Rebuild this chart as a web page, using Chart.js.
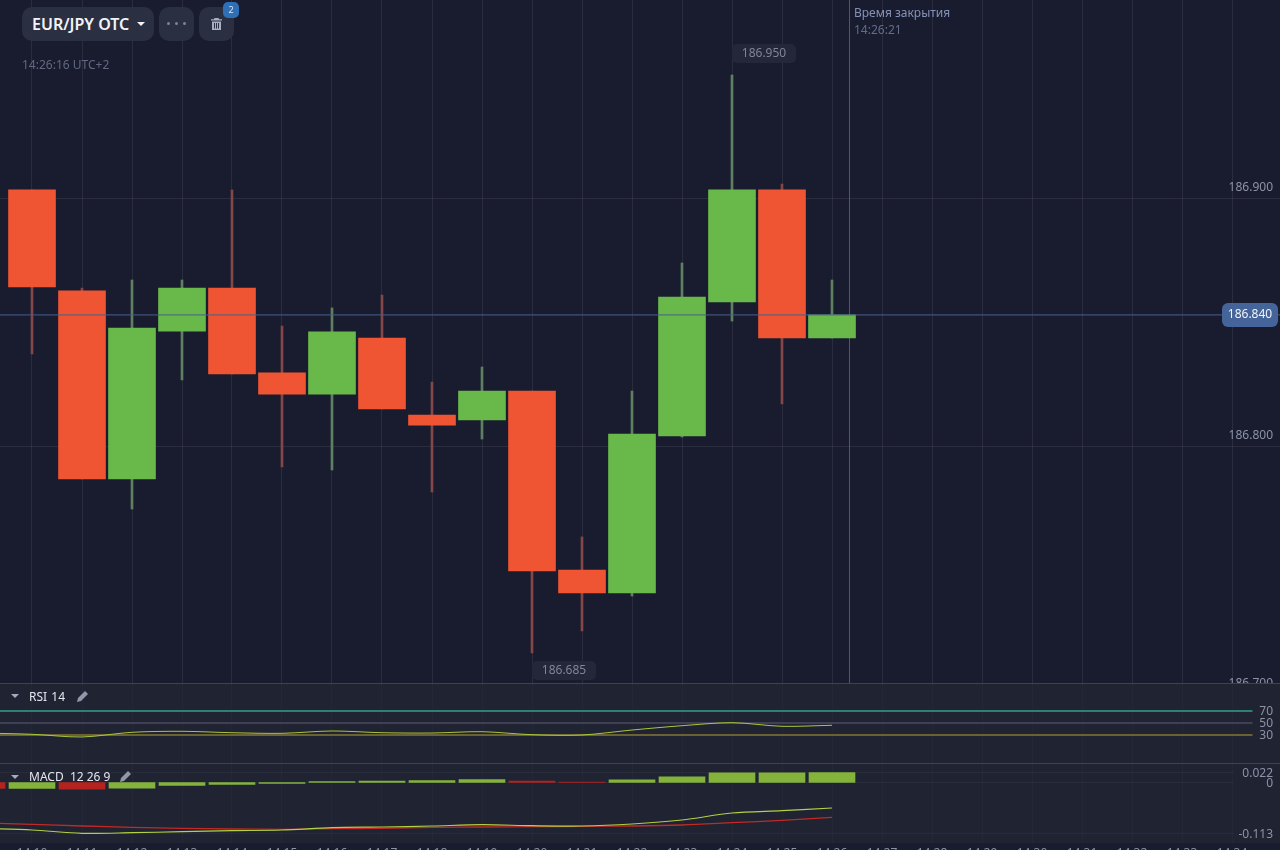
<!DOCTYPE html>
<html>
<head>
<meta charset="utf-8">
<title>EUR/JPY OTC</title>
<script src="https://cdn.jsdelivr.net/npm/chart.js@4"></script>
<style>
  html, body { margin: 0; padding: 0; width: 1280px; height: 850px; overflow: hidden; background: #191c2e; font-family: "Noto Sans", sans-serif; }
  canvas { position: absolute; left: 0; display: block; }
  .pane { position: absolute; left: 0; width: 1280px; background: #1f2332; border-top: 1px solid #3b4259; box-sizing: border-box; }
  .abs { position: absolute; white-space: nowrap; }
  .btn { position: absolute; top: 7px; height: 34px; background: #2a2f42; border-radius: 10px; }
  .paneTitle { position: absolute; left: 29px; color: #e4e6ee; font-size: 12px; line-height: 16px; white-space: pre; }
  .tri { position: absolute; left: 11px; width: 0; height: 0; border-left: 4px solid transparent; border-right: 4px solid transparent; border-top: 4px solid #a4a9bb; }
</style>
</head>
<body>
<canvas id="mainChart" width="1280" height="700" style="top:0;z-index:1"></canvas>

<div class="btn" style="left:22px;width:132px;z-index:3">
  <span class="abs" style="left:10px;top:6px;color:#f2f3f7;font-size:16px;font-weight:600;line-height:22px">EUR/JPY OTC</span>
  <span class="abs" style="left:115px;top:15px;width:0;height:0;border-left:4px solid transparent;border-right:4px solid transparent;border-top:4px solid #f2f3f7"></span>
</div>
<div class="btn" style="left:159px;width:35px;z-index:3">
  <span class="abs" style="left:8px;top:15px;width:3px;height:3px;border-radius:2px;background:#7d8396"></span>
  <span class="abs" style="left:16px;top:15px;width:3px;height:3px;border-radius:2px;background:#7d8396"></span>
  <span class="abs" style="left:24px;top:15px;width:3px;height:3px;border-radius:2px;background:#7d8396"></span>
</div>
<div class="btn" style="left:199px;width:35px;z-index:3">
  <svg class="abs" style="left:12px;top:11px" width="11" height="12" viewBox="0 0 11 12"><path fill="#a9aec0" d="M3.5 0h4l.6 1.2H11v1.3H0V1.2h2.9zM1 3.4h9V12H1zM3 5v5.5h1V5zm2 0v5.5h1V5zm2 0v5.5h1V5z"/></svg>
</div>
<span class="abs" style="left:223px;top:2px;width:16px;height:16px;border-radius:5px;background:#2f6fb5;color:#dbe8f7;font-size:9px;line-height:16px;text-align:center;z-index:4">2</span>
<span class="abs" style="left:22px;top:56px;color:#626880;font-size:12px;line-height:18px;z-index:3">14:26:16 UTC+2</span>
<span class="abs" style="left:854px;top:4px;color:#8592b8;font-size:12px;line-height:18px;z-index:3">Время закрытия</span>
<span class="abs" style="left:854px;top:21px;color:#626c8a;font-size:12px;line-height:18px;z-index:3">14:26:21</span>

<div class="pane" style="top:683px;height:81px;z-index:2"></div>
<canvas id="rsiChart" width="1280" height="81" style="top:683px;z-index:3"></canvas>
<div class="tri" style="top:694px;z-index:4"></div>
<div class="paneTitle" style="top:689px;z-index:4;word-spacing:-1px">RSI  14</div>
<svg class="abs" style="left:77px;top:691px;z-index:4" width="11" height="11" viewBox="0 0 11 11"><path fill="#9196a8" d="M8 0l3 3-7 7-4 1 1-4z"/></svg>

<div class="pane" style="top:763px;height:80px;z-index:2"></div>
<canvas id="macdChart" width="1280" height="99" style="top:764px;z-index:3"></canvas>
<div class="tri" style="top:775px;z-index:4"></div>
<div class="paneTitle" style="top:769px;z-index:4">MACD  12 26 9</div>
<svg class="abs" style="left:120px;top:771px;z-index:4" width="11" height="11" viewBox="0 0 11 11"><path fill="#9196a8" d="M8 0l3 3-7 7-4 1 1-4z"/></svg>

<script>
// Data
const tickLabels = ["14:10", "14:11", "14:12", "14:13", "14:14", "14:15", "14:16", "14:17", "14:18", "14:19", "14:20", "14:21", "14:22", "14:23", "14:24", "14:25", "14:26", "14:27", "14:28", "14:29", "14:30", "14:31", "14:32", "14:33", "14:34"];

const opens  = [186.8973, 186.8510, 186.7648, 186.8326, 186.8523, 186.8134, 186.8037, 186.8294, 186.7941, 186.7918, 186.8051, 186.7230, 186.7125, 186.7845, 186.8459, 186.8973, 186.8294];
const closes = [186.8528, 186.7648, 186.8340, 186.8523, 186.8129, 186.8037, 186.8322, 186.7969, 186.7895, 186.8051, 186.7226, 186.7125, 186.7854, 186.8482, 186.8973, 186.8294, 186.8400];
const highs  = [186.8973, 186.8523, 186.8560, 186.8560, 186.8973, 186.8349, 186.8432, 186.8491, 186.8092, 186.8161, 186.8051, 186.7382, 186.8051, 186.8638, 186.9500, 186.9000, 186.8560];
const lows   = [186.8221, 186.7648, 186.7510, 186.8102, 186.8129, 186.7703, 186.7689, 186.7969, 186.7588, 186.7831, 186.6850, 186.6951, 186.7111, 186.7840, 186.8372, 186.7992, 186.8294];

const priceTicks = [186.7, 186.8, 186.9];
const closeTime = 16.35; // 14:26:21

// the indicator arrays start one minute earlier (14:09), it is cut by the left edge
const rsiValues = [33.3, 31.2, 26.7, 34.5, 36.2, 33.8, 32.8, 36.7, 33.8, 33.3, 35.5, 30.5, 30.0, 38.3, 45.5, 50.5, 44.5, 46.2];
const rsiLevels = [70, 50, 30];

const macdLine   = [-0.1022, -0.1056, -0.1129, -0.1116, -0.1093, -0.1071, -0.1056, -0.1004, -0.0989, -0.0967, -0.0938, -0.0960, -0.0967, -0.0922, -0.0833, -0.0678, -0.0627, -0.0567];
const signalLine = [-0.0900, -0.0929, -0.0967, -0.0996, -0.1018, -0.1033, -0.1040, -0.1027, -0.1018, -0.0996, -0.0989, -0.0982, -0.0973, -0.0967, -0.0944, -0.0893, -0.0840, -0.0773];
const histogram  = [-0.0133, -0.0133, -0.0148, -0.0126, -0.0067, -0.0044, -0.0022, 0.002, 0.003, 0.004, 0.0067, 0.003, 0.0008, 0.006, 0.0126, 0.0215, 0.0215, 0.022];
const histColors = ["r", "g", "r", "g", "g", "g", "g", "g", "g", "g", "g", "r", "r", "g", "g", "g", "g", "g"];
const macdTicks = [0.022, 0, -0.113];
const macdTickLabels = ["0.022", "0", "-0.113"];

// Styles
const GREEN = "#68b84a";
const RED = "#ef5433";
const GREEN_WICK = "#5f8060";
const RED_WICK = "#85464a";
const GRID = "rgba(255,255,255,0.08)";
const FAINT = "rgba(255,255,255,0.02)";
const TEXT = "#8d92a6";
const FONT = { family: "'Noto Sans', sans-serif", size: 12 };

const xMin = -0.64;
const xMax = 24.96;
const levelEnd = 24.41;

Chart.defaults.animation = false;
Chart.defaults.responsive = false;
Chart.defaults.font.family = FONT.family;

function xAxis(gridColor, showLabels, bottomSpace) {
  return {
    type: "linear",
    min: xMin,
    max: xMax,
    offset: false,
    afterBuildTicks: (scale) => { scale.ticks = tickLabels.map((t, i) => ({ value: i })); },
    afterFit: (scale) => {
      scale.paddingLeft = 0;
      scale.paddingRight = 0;
      scale.height = bottomSpace;
    },
    border: { display: false },
    grid: { color: gridColor, offset: false, drawTicks: false },
    ticks: {
      display: showLabels,
      autoSkip: false,
      maxRotation: 0,
      padding: 3,
      color: TEXT,
      font: FONT,
      callback: (v) => tickLabels[v]
    }
  };
}

function yAxis(min, max, values, labelFn, showGrid, labelOffset) {
  return {
    position: "right",
    min: min,
    max: max,
    afterBuildTicks: (scale) => { scale.ticks = values.map((v) => ({ value: v })); },
    // labels sit on top of the plot, they must not take room from it
    afterFit: (scale) => {
      scale.width = 0;
      scale.paddingTop = 0;
      scale.paddingBottom = 0;
    },
    border: { display: false },
    grid: { display: showGrid, color: GRID, drawTicks: false },
    ticks: { mirror: true, padding: -7, color: TEXT, font: FONT, autoSkip: false, labelOffset: labelOffset, callback: labelFn }
  };
}

// Value tags on the main chart
const tagPlugin = {
  id: "tags",
  afterDatasetsDraw(chart) {
    const c = chart.ctx;
    const sx = chart.scales.x;
    const sy = chart.scales.price;
    const hi = Math.max(...highs);
    const lo = Math.min(...lows);
    const last = closes[closes.length - 1];
    const tag = (x, y, w, h, r, text, bg, color) => {
      c.fillStyle = bg;
      c.beginPath();
      c.roundRect(x - w / 2, y - h / 2, w, h, r);
      c.fill();
      c.fillStyle = color;
      c.font = "12px 'Noto Sans', sans-serif";
      c.textAlign = "center";
      c.textBaseline = "middle";
      c.fillText(text, x, y);
    };
    tag(sx.getPixelForValue(highs.indexOf(hi)) + 32, sy.getPixelForValue(hi) - 21.5, 64, 19, 5, hi.toFixed(3), "#232739", "#7f8498");
    tag(sx.getPixelForValue(lows.indexOf(lo)) + 32, sy.getPixelForValue(lo) + 17.5, 64, 19, 5, lo.toFixed(3), "#232739", "#7f8498");
    tag(1250, sy.getPixelForValue(last), 56, 24, 6, last.toFixed(3), "#45659a", "#f0f3f9");
  }
};

const isUp = closes.map((v, i) => v >= opens[i]);

new Chart(document.getElementById("mainChart").getContext("2d"), {
  type: "bar",
  data: {
    datasets: [
      {
        label: "wick",
        data: highs.map((h, i) => ({ x: i, y: [lows[i], h] })),
        backgroundColor: isUp.map((u) => (u ? GREEN_WICK : RED_WICK)),
        barThickness: 2,
        grouped: false,
        yAxisID: "price",
        order: 3
      },
      {
        label: "body",
        data: opens.map((o, i) => ({ x: i, y: [o, closes[i]] })),
        backgroundColor: isUp.map((u) => (u ? GREEN : RED)),
        barThickness: 47,
        grouped: false,
        yAxisID: "price",
        order: 2
      },
      {
        type: "line",
        label: "price",
        data: [{ x: xMin, y: closes[closes.length - 1] }, { x: xMax, y: closes[closes.length - 1] }],
        borderColor: "#4a5f8f",
        borderWidth: 1,
        pointRadius: 0,
        yAxisID: "price",
        order: 1
      },
      {
        type: "line",
        label: "close time",
        data: [{ x: closeTime, y: 186.6 }, { x: closeTime, y: 187 }],
        borderColor: "#46587f",
        borderWidth: 1,
        pointRadius: 0,
        yAxisID: "price",
        order: 4
      }
    ]
  },
  plugins: [tagPlugin],
  options: {
    layout: { padding: 0 },
    plugins: { legend: { display: false }, tooltip: { enabled: false } },
    scales: {
      x: xAxis(GRID, false, 0),
      price: { axis: "y", display: false, min: 186.66343, max: 186.98439 },
      y: yAxis(186.69798, 186.98024, priceTicks, (v) => v.toFixed(3), true, -11)
    }
  }
});

const levelColors = ["#2f7f79", "#3f4053", "#6b6133"];

new Chart(document.getElementById("rsiChart").getContext("2d"), {
  type: "line",
  data: {
    datasets: rsiLevels.map((v, i) => ({
      label: "level " + v,
      data: [{ x: xMin, y: v }, { x: levelEnd, y: v }],
      borderColor: levelColors[i],
      borderWidth: 2,
      pointRadius: 0,
      order: 2
    })).concat([{
      label: "RSI",
      data: rsiValues.map((v, i) => ({ x: i - 1, y: v })),
      borderColor: "#a8c83a",
      borderWidth: 1,
      pointRadius: 0,
      tension: 0.3,
      order: 1
    }])
  },
  options: {
    layout: { padding: 0 },
    plugins: { legend: { display: false }, tooltip: { enabled: false } },
    scales: {
      x: xAxis(FAINT, false, 0),
      y: yAxis(-18.33, 116.67, rsiLevels, (v) => String(v), false, 1)
    }
  }
});

new Chart(document.getElementById("macdChart").getContext("2d"), {
  type: "bar",
  data: {
    datasets: [
      {
        label: "histogram",
        data: histogram.map((v, i) => ({ x: i - 1, y: v })),
        backgroundColor: histColors.map((c) => (c === "g" ? "#84b33c" : "#b5231f")),
        barThickness: 46,
        order: 3
      },
      {
        type: "line",
        label: "signal",
        data: signalLine.map((v, i) => ({ x: i - 1, y: v })),
        borderColor: "#c22a25",
        borderWidth: 1.3,
        pointRadius: 0,
        tension: 0.3,
        order: 2
      },
      {
        type: "line",
        label: "macd",
        data: macdLine.map((v, i) => ({ x: i - 1, y: v })),
        borderColor: "#b4d043",
        borderWidth: 1.2,
        pointRadius: 0,
        tension: 0.3,
        order: 1
      }
    ].concat(macdTicks.map((v) => ({
      type: "line",
      label: "grid " + v,
      data: [{ x: xMin, y: v }, { x: 24.03, y: v }],
      borderColor: "rgba(255,255,255,0.05)",
      borderWidth: 1,
      pointRadius: 0,
      order: 4
    })))
  },
  options: {
    layout: { padding: 0 },
    plugins: { legend: { display: false }, tooltip: { enabled: false } },
    scales: {
      x: xAxis(FAINT, true, 20),
      y: yAxis(-0.13444, 0.0411, macdTicks, (v, i) => macdTickLabels[i], false, 1)
    }
  }
});
</script>
</body>
</html>
